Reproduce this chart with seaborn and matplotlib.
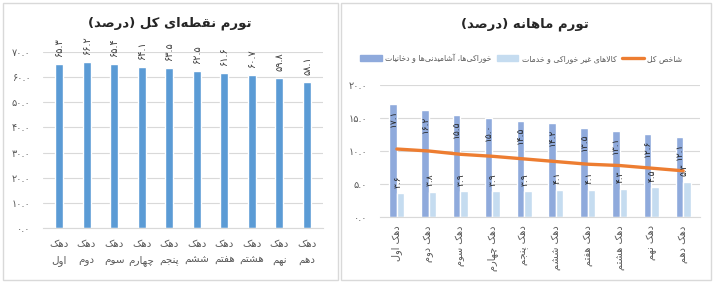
import numpy as np
import pandas as pd
import matplotlib
matplotlib.use("Agg")
import matplotlib.pyplot as plt
from matplotlib.patches import Rectangle, Patch
from matplotlib.lines import Line2D
import seaborn as sns

# ---------------- data ----------------
deciles = ["دهک اول", "دهک دوم", "دهک سوم", "دهک چهارم", "دهک پنجم",
           "دهک ششم", "دهک هفتم", "دهک هشتم", "دهک نهم", "دهک دهم"]
point_inflation = [65.3, 66.2, 65.4, 64.1, 63.5, 62.5, 61.6, 60.7, 59.8, 58.1]
food_monthly = [17.1, 16.2, 15.5, 15.0, 14.5, 14.2, 13.5, 13.1, 12.6, 12.1]
nonfood_monthly = [3.6, 3.8, 3.9, 3.9, 3.9, 4.1, 4.1, 4.3, 4.5, 5.3]
general_monthly = [10.3, 10.0, 9.5, 9.2, 8.8, 8.4, 8.0, 7.8, 7.4, 7.0]
left_yticks = [0, 10, 20, 30, 40, 50, 60, 70]
right_yticks = [0, 5, 10, 15, 20]

title_left = "تورم نقطه‌ای کل (درصد)"
title_right = "تورم ماهانه (درصد)"
name_food = "خوراکی‌ها، آشامیدنی‌ها و دخانیات"
name_nonfood = "کالاهای غیر خوراکی و خدمات"
name_general = "شاخص کل"

# ---------------- Persian shaping helpers ----------------
FORMS = {
    '\u0622': (0xFE81, 0xFE82, None, None),
    '\u0627': (0xFE8D, 0xFE8E, None, None),
    '\u0628': (0xFE8F, 0xFE90, 0xFE91, 0xFE92),
    '\u067E': (0xFB56, 0xFB57, 0xFB58, 0xFB59),
    '\u062A': (0xFE95, 0xFE96, 0xFE97, 0xFE98),
    '\u062B': (0xFE99, 0xFE9A, 0xFE9B, 0xFE9C),
    '\u062C': (0xFE9D, 0xFE9E, 0xFE9F, 0xFEA0),
    '\u0686': (0xFB7A, 0xFB7B, 0xFB7C, 0xFB7D),
    '\u062D': (0xFEA1, 0xFEA2, 0xFEA3, 0xFEA4),
    '\u062E': (0xFEA5, 0xFEA6, 0xFEA7, 0xFEA8),
    '\u062F': (0xFEA9, 0xFEAA, None, None),
    '\u0630': (0xFEAB, 0xFEAC, None, None),
    '\u0631': (0xFEAD, 0xFEAE, None, None),
    '\u0632': (0xFEAF, 0xFEB0, None, None),
    '\u0698': (0xFB8A, 0xFB8B, None, None),
    '\u0633': (0xFEB1, 0xFEB2, 0xFEB3, 0xFEB4),
    '\u0634': (0xFEB5, 0xFEB6, 0xFEB7, 0xFEB8),
    '\u0635': (0xFEB9, 0xFEBA, 0xFEBB, 0xFEBC),
    '\u0636': (0xFEBD, 0xFEBE, 0xFEBF, 0xFEC0),
    '\u0637': (0xFEC1, 0xFEC2, 0xFEC3, 0xFEC4),
    '\u0638': (0xFEC5, 0xFEC6, 0xFEC7, 0xFEC8),
    '\u0639': (0xFEC9, 0xFECA, 0xFECB, 0xFECC),
    '\u063A': (0xFECD, 0xFECE, 0xFECF, 0xFED0),
    '\u0641': (0xFED1, 0xFED2, 0xFED3, 0xFED4),
    '\u0642': (0xFED5, 0xFED6, 0xFED7, 0xFED8),
    '\u06A9': (0xFB8E, 0xFB8F, 0xFB90, 0xFB91),
    '\u06AF': (0xFB92, 0xFB93, 0xFB94, 0xFB95),
    '\u0644': (0xFEDD, 0xFEDE, 0xFEDF, 0xFEE0),
    '\u0645': (0xFEE1, 0xFEE2, 0xFEE3, 0xFEE4),
    '\u0646': (0xFEE5, 0xFEE6, 0xFEE7, 0xFEE8),
    '\u0647': (0xFEE9, 0xFEEA, 0xFEEB, 0xFEEC),
    '\u0648': (0xFEED, 0xFEEE, None, None),
    '\u06CC': (0xFBFC, 0xFBFD, 0xFBFE, 0xFBFF),
}
LAM_ALEF = {'\u0627': (0xFEFB, 0xFEFC), '\u0622': (0xFEF5, 0xFEF6)}


def dual(c):
    return c in FORMS and FORMS[c][2] is not None


def shape_line(s):
    out = []
    i = 0
    n = len(s)
    while i < n:
        c = s[i]
        if c not in FORMS:
            if c != '\u200c':
                out.append(c)
            i += 1
            continue
        prev = s[i - 1] if i > 0 else ''
        jp = dual(prev)
        if c == '\u0644' and i + 1 < n and s[i + 1] in LAM_ALEF:
            iso, fin = LAM_ALEF[s[i + 1]]
            out.append(chr(fin if jp else iso))
            i += 2
            continue
        nxt = s[i + 1] if i + 1 < n else ''
        jn = dual(c) and nxt in FORMS
        iso, fin, ini, med = FORMS[c]
        if jp and jn:
            code = med
        elif jp:
            code = fin
        elif jn:
            code = ini
        else:
            code = iso
        out.append(chr(code))
        i += 1
    vis = ''.join(reversed(out))
    vis = vis.translate(str.maketrans('()', ')('))
    return vis


def fa_text(s):
    return '\n'.join(shape_line(line) for line in s.split('\n'))


def fa_num(v):
    return f"{v:.1f}".translate(str.maketrans('0123456789', '۰۱۲۳۴۵۶۷۸۹'))


# ---------------- style ----------------
sns.set_style("white")
plt.rcParams['font.family'] = ['DejaVu Sans']
TXT = '#595959'
GRID = '#D9D9D9'
C_LEFT = '#5B9BD5'
C_FOOD = '#8FAADC'
C_NONFOOD = '#C5DCF0'
C_LINE = '#ED7D31'

fig = plt.figure(figsize=(7.14, 2.82), dpi=100)
W, H = 714.0, 282.0

# panel frames
for (x0, x1) in [(3, 338), (341, 711)]:
    fig.patches.append(Rectangle((x0 / W, 2 / H), (x1 - x0) / W, 277 / H,
                                 transform=fig.transFigure, fill=False,
                                 ec=GRID, lw=1.0))

# ---------------- left chart ----------------
axL = fig.add_axes([43 / W, 54 / H, 280 / W, 176 / H])
dfL = pd.DataFrame({'decile': deciles, 'value': point_inflation})
sns.barplot(data=dfL, x='decile', y='value', color=C_LEFT, width=0.29,
            saturation=1, ax=axL)
axL.set_ylim(0, 70)
axL.set_xlim(-0.58, 9.58)
axL.set_yticks(left_yticks)
axL.set_yticklabels([fa_num(v) for v in left_yticks], fontsize=7, color=TXT)
axL.set_xticks(range(len(deciles)))
axL.set_xticklabels([fa_text(d.replace(' ', '\n')) for d in deciles],
                    fontsize=7.5, color=TXT, linespacing=1.75)
axL.yaxis.grid(True, color=GRID, lw=0.8)
axL.set_axisbelow(True)
for sp in ['top', 'right', 'left']:
    axL.spines[sp].set_visible(False)
axL.spines['bottom'].set_color(GRID)
axL.tick_params(axis='both', length=0)
axL.tick_params(axis='y', pad=9)
axL.tick_params(axis='x', pad=8)
axL.set_xlabel('')
axL.set_ylabel('')
for i, v in enumerate(point_inflation):
    axL.annotate(fa_num(v), (i, v), xytext=(0, 5), textcoords='offset points',
                 rotation=90, ha='center', va='bottom', fontsize=7,
                 color='#404040', annotation_clip=False)
fig.text(170 / W, 1 - 23 / H, fa_text(title_left), ha='center', va='center',
         fontsize=9.5, fontweight='bold', color='#262626')

# ---------------- right chart ----------------
axR = fig.add_axes([380 / W, 65 / H, 320 / W, 132 / H])
dfR = pd.DataFrame({
    'decile': deciles * 2,
    'group': [name_food] * 10 + [name_nonfood] * 10,
    'value': food_monthly + nonfood_monthly,
})
sns.barplot(data=dfR, x='decile', y='value', hue='group',
            hue_order=[name_food, name_nonfood],
            palette=[C_FOOD, C_NONFOOD], width=0.47, saturation=1,
            legend=False, ax=axR)
sns.lineplot(x=np.arange(len(deciles)), y=general_monthly, color=C_LINE,
             lw=2.4, ax=axR)
axR.set_ylim(0, 20)
axR.set_xlim(-0.53, 9.53)
axR.set_yticks(right_yticks)
axR.set_yticklabels([fa_num(v) for v in right_yticks], fontsize=7, color=TXT)
axR.set_xticks(range(len(deciles)))
axR.set_xticklabels([fa_text(d) for d in deciles], rotation=90,
                    fontsize=7, color=TXT)
axR.yaxis.grid(True, color=GRID, lw=0.8)
axR.set_axisbelow(True)
for sp in ['top', 'right', 'left']:
    axR.spines[sp].set_visible(False)
axR.spines['bottom'].set_color(GRID)
axR.tick_params(axis='both', length=0)
axR.tick_params(axis='y', pad=9)
axR.tick_params(axis='x', pad=6)
axR.set_xlabel('')
axR.set_ylabel('')
off = 0.47 / 4
for i, v in enumerate(food_monthly):
    axR.annotate(fa_num(v), (i - off, v), xytext=(0, -4),
                 textcoords='offset points', rotation=90, ha='center',
                 va='top', fontsize=6.5, color='#262626',
                 annotation_clip=False)
for i, v in enumerate(nonfood_monthly):
    axR.annotate(fa_num(v), (i + off * 0.3, v), xytext=(0, 4),
                 textcoords='offset points', rotation=90, ha='center',
                 va='bottom', fontsize=6.5, color='#262626',
                 annotation_clip=False)

handles = [Patch(color=C_FOOD), Patch(color=C_NONFOOD),
           Line2D([0], [0], color=C_LINE, lw=2.4)]
labels = [fa_text(name_food), fa_text(name_nonfood), fa_text(name_general)]
fig.legend(handles, labels, loc='center left',
           bbox_to_anchor=(360 / W, 1 - 58 / H), ncol=3, frameon=False,
           fontsize=5.6, handlelength=2.8, handleheight=0.7,
           handletextpad=0.4, columnspacing=0.7, labelcolor=TXT,
           borderaxespad=0, borderpad=0)
fig.text(525 / W, 1 - 24 / H, fa_text(title_right), ha='center', va='center',
         fontsize=9.5, fontweight='bold', color='#262626')

fig.savefig('out.png', dpi=100)
